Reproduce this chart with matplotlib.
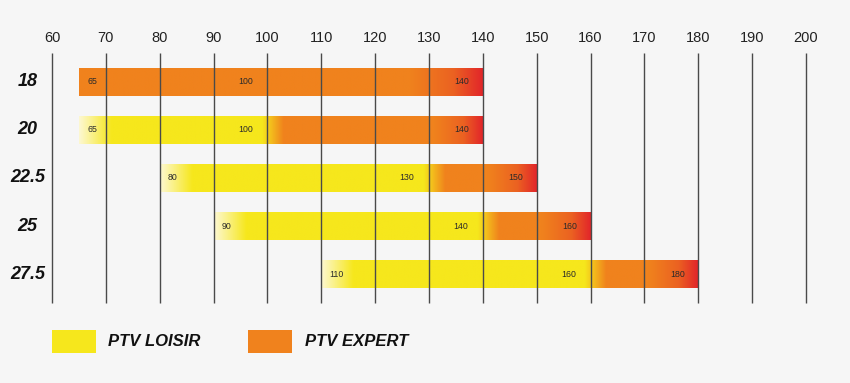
import numpy as np
import matplotlib
matplotlib.use('Agg')
import matplotlib.pyplot as plt
from matplotlib.colors import to_rgb
from matplotlib.transforms import blended_transform_factory
from matplotlib.patches import Rectangle

# ---- data ----
widths = ['18', '20', '22.5', '25', '27.5']
loisir_start = [None, 65, 80, 90, 110]
loisir_end = [None, 100, 130, 140, 160]
expert_start = [65, 100, 130, 140, 160]
expert_end = [140, 140, 150, 160, 180]
label_low = [65, 65, 80, 90, 110]
label_mid = [100, 100, 130, 140, 160]
label_high = [140, 140, 150, 160, 180]
ticks = list(range(60, 201, 10))
legend_labels = ['PTV LOISIR', 'PTV EXPERT']

# ---- style ----
BG = '#f6f6f6'
PALE = to_rgb('#fdf8d2')
YELLOW = to_rgb('#f6e71c')
ORANGE = to_rgb('#f0821d')
RED = to_rgb('#e2262a')
MIXR = tuple(0.65 * o + 0.35 * r for o, r in zip(ORANGE, RED))

plt.rcParams['font.family'] = ['Liberation Sans', 'DejaVu Sans']

fig = plt.figure(figsize=(8.5, 3.83), dpi=100, facecolor=BG)
W, H = 850, 383
ax = fig.add_axes([52 / W, 80 / H, 754 / W, 250 / H])
ax.set_facecolor(BG)

bar_h = 0.58
pad = 0.604

for i in range(len(widths)):
    end = expert_end[i]
    stops = []
    if loisir_start[i] is not None:
        ls, le = loisir_start[i], loisir_end[i]
        stops += [(ls, PALE), (ls + 6, YELLOW), (le - 1, YELLOW), (le + 3, ORANGE)]
        start = ls
    else:
        start = expert_start[i]
        stops += [(start, ORANGE)]
    r = max(9.0, 0.18 * (end - expert_start[i]))
    stops += [(end - r, ORANGE), (end - r * 0.4, MIXR), (end, RED)]
    xs = np.linspace(start, end, 600)
    sx = [s[0] for s in stops]
    img = np.zeros((1, xs.size, 3))
    for c in range(3):
        img[0, :, c] = np.interp(xs, sx, [s[1][c] for s in stops])
    ax.imshow(img, extent=(start, end, i + bar_h / 2, i - bar_h / 2),
              aspect='auto', interpolation='bilinear', zorder=2)
    kw = dict(va='center', fontsize=6.3, color='#2a2a2a', zorder=5)
    ax.text(label_low[i] + 1.5, i, str(label_low[i]), ha='left', **kw)
    ax.text(label_mid[i] - 2.7, i, str(label_mid[i]), ha='right', **kw)
    ax.text(label_high[i] - 2.5, i, str(label_high[i]), ha='right', **kw)

ax.set_xlim(60, 200)
ax.set_ylim(len(widths) - 1 + pad, -pad)
ax.vlines(ticks, len(widths) - 1 + pad, -pad, color='#4a4a4a', lw=1.0,
          zorder=4, clip_on=False)

ax.xaxis.tick_top()
ax.set_xticks(ticks)
ax.set_xticklabels([str(t) for t in ticks], fontsize=10.5, color='#222222')
ax.tick_params(axis='x', length=0, pad=6)
ax.set_yticks([])
for s in ax.spines.values():
    s.set_visible(False)

tr = blended_transform_factory(fig.transFigure, ax.transData)
for i, w in enumerate(widths):
    fig.text(27.5 / W, i, w, transform=tr, ha='center', va='center',
             fontsize=13, fontweight='bold', fontstyle='italic', color='#111111')

# legend
leg_colors = ['#f6e71c', '#f0821d']
box_x = [52, 248]
text_x = [108, 305]
for lab, col, bx, tx in zip(legend_labels, leg_colors, box_x, text_x):
    fig.patches.append(Rectangle((bx / W, (H - 353) / H), 44 / W, 23 / H,
                                 transform=fig.transFigure, facecolor=col,
                                 edgecolor='none'))
    fig.text(tx / W, (H - 341.5) / H, lab, ha='left', va='center',
             fontsize=12, fontweight='bold', fontstyle='italic', color='#111111')

fig.savefig('out.png', dpi=100, facecolor=BG)
